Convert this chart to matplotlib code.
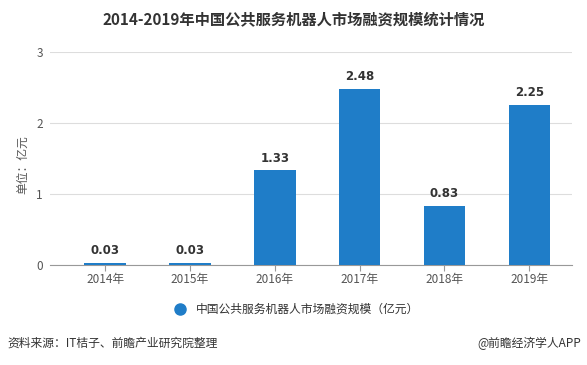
import matplotlib.pyplot as plt
from matplotlib.lines import Line2D

plt.rcParams['font.family'] = ['Noto Sans CJK SC', 'DejaVu Sans']

# 数据
years = ['2014年', '2015年', '2016年', '2017年', '2018年', '2019年']
values = [0.03, 0.03, 1.33, 2.48, 0.83, 2.25]
value_labels = ['0.03', '0.03', '1.33', '2.48', '0.83', '2.25']

bar_color = '#1f7dc8'

fig = plt.figure(figsize=(5.87, 3.65), dpi=100)
ax = fig.add_axes([0.085, 0.274, 0.889, 0.584])

x = list(range(len(years)))
bars = ax.bar(x, values, width=0.49, color=bar_color, zorder=3)

for bar, lab in zip(bars, value_labels):
    ax.text(bar.get_x() + bar.get_width() / 2, bar.get_height() + 0.08, lab,
            ha='center', va='bottom', fontsize=8.5, fontweight='bold', color='#333333',
            family='DejaVu Sans')

ax.set_ylim(0, 3)
ax.set_xlim(-0.65, 5.5)
ax.set_yticks([0, 1, 2, 3])
ax.set_xticks(x)
ax.set_xticklabels(years)
ax.tick_params(axis='y', length=0, labelsize=8.5, colors='#555555', pad=5)
ax.tick_params(axis='x', length=4, labelsize=8.5, colors='#555555', pad=2)
ax.tick_params(axis='x', color='#999999')
ax.grid(axis='y', color='#dddddd', linewidth=0.8, zorder=0)
for s in ['top', 'right', 'left']:
    ax.spines[s].set_visible(False)
ax.spines['bottom'].set_color('#999999')

ax.set_ylabel('单位：亿元', fontsize=8.5, color='#555555')
ax.yaxis.set_label_coords(-0.04, 0.47)

fig.text(0.5, 0.948, '2014-2019年中国公共服务机器人市场融资规模统计情况',
         ha='center', va='center', fontsize=11, fontweight='bold', color='#333333')

handle = Line2D([], [], marker='o', linestyle='', markersize=8, color=bar_color)
fig.legend([handle], ['中国公共服务机器人市场融资规模（亿元）'], loc='center',
           bbox_to_anchor=(0.5, 0.152), frameon=False, fontsize=8.5,
           handletextpad=0.3, labelcolor='#333333')

fig.text(0.012, 0.06, '资料来源：IT桔子、前瞻产业研究院整理', ha='left', va='center',
         fontsize=8.5, color='#333333')
fig.text(0.99, 0.06, '@前瞻经济学人APP', ha='right', va='center',
         fontsize=8.5, color='#333333')

plt.savefig('out.png', dpi=100)
